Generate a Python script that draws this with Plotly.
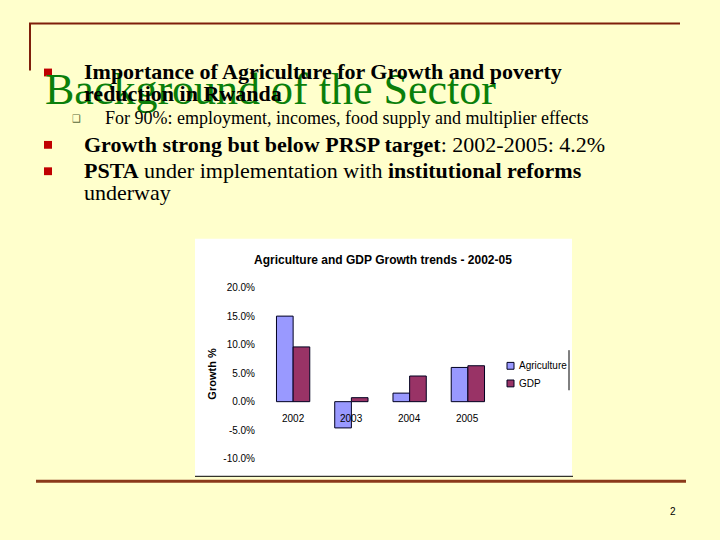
import plotly.graph_objects as go

years = ["2002", "2003", "2004", "2005"]
series_names = ["Agriculture", "GDP"]
agriculture = [15.0, -4.6, 1.5, 6.0]
gdp = [9.6, 0.7, 4.5, 6.3]
tick_vals = [-10, -5, 0, 5, 10, 15, 20]
tick_text = ["-10.0%", "-5.0%", "0.0%", "5.0%", "10.0%", "15.0%", "20.0%"]
colors = ["#9999FF", "#993366"]

W, H = 720, 540
def px(x):
    return x / W
def py(y):
    return 1 - y / H

fig = go.Figure()
for name, vals, col in zip(series_names, [agriculture, gdp], colors):
    fig.add_trace(go.Bar(x=years, y=vals, name=name, marker_color=col,
                         marker_line_color="#000020", marker_line_width=1,
                         showlegend=False))

shapes = []
annotations = []

# white chart box
shapes.append(dict(type="rect", xref="paper", yref="paper", layer="below",
                   x0=px(195), x1=px(572), y0=py(481), y1=py(238),
                   fillcolor="white", line_width=0))
shapes.append(dict(type="line", xref="paper", yref="paper",
                   x0=px(195), x1=px(573), y0=py(481), y1=py(481),
                   line=dict(color="black", width=1)))
# legend right border fragment
shapes.append(dict(type="line", xref="paper", yref="paper",
                   x0=px(569), x1=px(569), y0=py(352), y1=py(393),
                   line=dict(color="black", width=1)))
# legend swatches + labels
for i, (name, col) in enumerate(zip(series_names, colors)):
    cy = 368 + i * 18
    shapes.append(dict(type="rect", xref="paper", yref="paper",
                       x0=px(507), x1=px(514), y0=py(cy + 3.5), y1=py(cy - 3.5),
                       fillcolor=col, line=dict(color="#000020", width=1)))
    annotations.append(dict(text=name, xref="paper", yref="paper",
                            x=px(517), y=py(cy), xanchor="left", yanchor="middle",
                            showarrow=False,
                            font=dict(family="Liberation Sans", size=10, color="black")))

# category labels near the zero line
for i, yr in enumerate(years):
    annotations.append(dict(text=yr, xref="x", yref="y", x=i, y=0,
                            yanchor="middle", yshift=-17, showarrow=False,
                            font=dict(family="Liberation Sans", size=10, color="black")))

# chart title
annotations.append(dict(text="<b>Agriculture and GDP Growth trends - 2002-05</b>",
                        xref="paper", yref="paper", x=px(383), y=py(260),
                        xanchor="center", yanchor="middle", showarrow=False,
                        font=dict(family="Liberation Sans", size=12, color="black")))
# y axis title
annotations.append(dict(text="<b>Growth %</b>", xref="paper", yref="paper",
                        x=px(212), y=py(376), textangle=-90,
                        xanchor="center", yanchor="middle", showarrow=False,
                        font=dict(family="Liberation Sans", size=11, color="black")))

# slide frame lines
shapes.append(dict(type="line", xref="paper", yref="paper",
                   x0=px(29), x1=px(680), y0=py(18), y1=py(18),
                   line=dict(color="#7F1F0A", width=2)))
shapes.append(dict(type="line", xref="paper", yref="paper",
                   x0=px(30), x1=px(30), y0=py(18), y1=py(66),
                   line=dict(color="#7F1F0A", width=2)))
shapes.append(dict(type="line", xref="paper", yref="paper",
                   x0=px(36), x1=px(686), y0=py(486), y1=py(486),
                   line=dict(color="#8B3A1A", width=3)))

# slide title
annotations.append(dict(text="Background of the Sector", xref="paper", yref="paper",
                        x=px(43), y=py(85), xanchor="left", yanchor="middle",
                        showarrow=False,
                        font=dict(family="Liberation Serif", size=44, color="#0A7F0A")))

# bullets
for by in [68, 142, 169]:
    shapes.append(dict(type="rect", xref="paper", yref="paper",
                       x0=px(44), x1=px(52), y0=py(by + 4), y1=py(by - 4),
                       fillcolor="#C00000", line_width=0))

serif = "Liberation Serif"
lines = [
    ("<b>Importance of Agriculture for Growth and poverty</b>", 82, 67, 22),
    ("<b>reduction in Rwanda</b>", 82, 89, 22),
    ("For 90%: employment, incomes, food supply and multiplier effects", 103, 115, 18),
    ("<b>Growth strong but below PRSP target</b>: 2002-2005: 4.2%", 82, 142, 22),
    ("<b>PSTA</b> under implementation with <b>institutional reforms</b>", 82, 168, 22),
    ("underway", 82, 191, 22),
]
for txt, x, y, s in lines:
    annotations.append(dict(text=txt, xref="paper", yref="paper", x=px(x), y=py(y),
                            xanchor="left", yanchor="middle", showarrow=False,
                            font=dict(family=serif, size=s, color="black")))
annotations.append(dict(text="❑", xref="paper", yref="paper", x=px(76), y=py(115),
                        xanchor="center", yanchor="middle", showarrow=False,
                        font=dict(family="DejaVu Sans", size=10, color="#5A6A3A")))
# page number
annotations.append(dict(text="2", xref="paper", yref="paper", x=px(673), y=py(517),
                        xanchor="center", yanchor="middle", showarrow=False,
                        font=dict(family="Liberation Sans", size=10, color="black")))

fig.update_layout(
    width=W, height=H, autosize=False,
    margin=dict(l=0, r=0, t=0, b=0),
    paper_bgcolor="#FFFFCC", plot_bgcolor="#C0C0C0",
    barmode="group", bargap=0.4286, bargroupgap=0,
    xaxis=dict(type="category", domain=[px(264), px(497)], showticklabels=False,
               showgrid=False, zeroline=False, showline=False, range=[-0.5, 3.5],
               fixedrange=True),
    yaxis=dict(domain=[py(463), py(288)], range=[-10, 20], tickvals=tick_vals,
               ticktext=tick_text, showgrid=False, zeroline=False, showline=False,
               ticks="", ticklabelstandoff=8,
               tickfont=dict(family="Liberation Sans", size=10, color="black")),
    shapes=shapes, annotations=annotations, showlegend=False,
)
fig.write_html("out.html", config={"displayModeBar": False},
               post_script="document.body.style.margin='0';document.body.style.padding='0';")
